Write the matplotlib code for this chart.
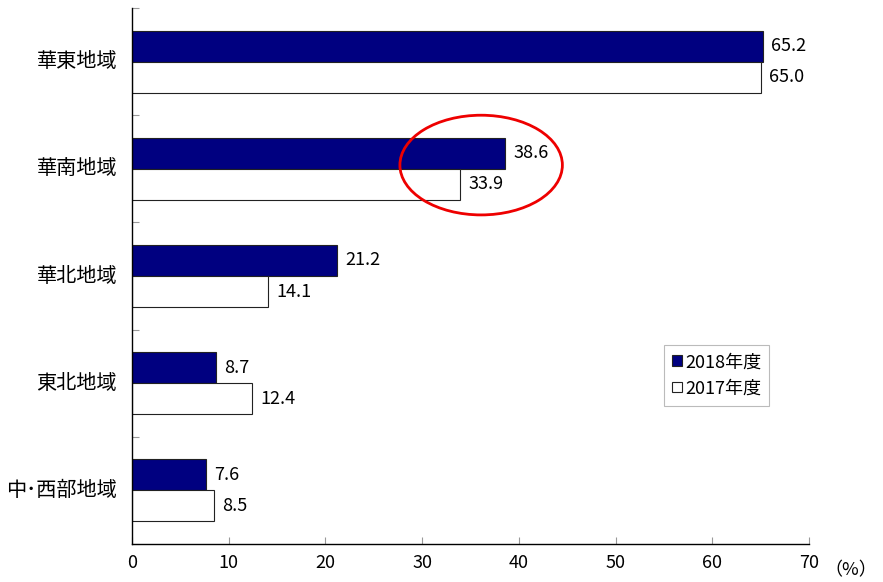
import matplotlib
matplotlib.use("Agg")
import matplotlib.pyplot as plt
from matplotlib.patches import Patch, Ellipse
import numpy as np

plt.rcParams['font.family'] = ['Noto Sans CJK JP', 'DejaVu Sans']

regions = ["華東地域", "華南地域", "華北地域", "東北地域", "中･西部地域"]
values_2018 = [65.2, 38.6, 21.2, 8.7, 7.6]
values_2017 = [65.0, 33.9, 14.1, 12.4, 8.5]
series_labels = ["2018年度", "2017年度"]
x_ticks = [0, 10, 20, 30, 40, 50, 60, 70]

fig = plt.figure(figsize=(8.83, 5.82), dpi=100)
ax = fig.add_axes([0.1495, 0.0653, 0.7667, 0.9209])

y = np.arange(len(regions))
h = 0.29
navy = "#000080"
ax.barh(y - h / 2, values_2018, height=h, color=navy, edgecolor="#222222", linewidth=0.8)
ax.barh(y + h / 2, values_2017, height=h, color="white", edgecolor="#222222", linewidth=0.8)

for yi, v in zip(y, values_2018):
    ax.annotate(f"{v:.1f}", (v, yi - h / 2), xytext=(6, 0), textcoords="offset points",
                va="center", ha="left", fontsize=13)
for yi, v in zip(y, values_2017):
    ax.annotate(f"{v:.1f}", (v, yi + h / 2), xytext=(6, 0), textcoords="offset points",
                va="center", ha="left", fontsize=13)

ax.set_xlim(0, 70)
ax.set_ylim(len(regions) - 0.5, -0.5)
ax.set_xticks(x_ticks)
ax.set_xticklabels([str(t) for t in x_ticks], fontsize=13)
ax.tick_params(axis="x", direction="in", length=5, color="#999999", pad=7)

# Category labels centred on groups, tick marks on group boundaries
ax.set_yticks(np.arange(-0.5, len(regions) + 0.5, 1.0))
ax.set_yticklabels([])
ax.tick_params(axis="y", direction="in", length=5, color="#999999")
for yi, name in zip(y, regions):
    ax.text(-0.022, yi, name, transform=ax.get_yaxis_transform(), ha="right",
            va="center", fontsize=14.5)

for s in ("top", "right"):
    ax.spines[s].set_visible(False)
for s in ("left", "bottom"):
    ax.spines[s].set_color("black")
    ax.spines[s].set_linewidth(1.0)

# Highlight around the 華南 pair
ax.add_patch(Ellipse((36.1, 0.965), 16.8, 0.93, fill=False, edgecolor="#ee0000",
                     linewidth=2, clip_on=False, zorder=5))

handles = [Patch(facecolor=navy, edgecolor="#222222", linewidth=0.8),
           Patch(facecolor="white", edgecolor="#222222", linewidth=0.8)]
leg = ax.legend(handles, series_labels, loc="upper left", bbox_to_anchor=(0.786, 0.371),
                fontsize=13, handlelength=0.55, handleheight=0.55, handletextpad=0.15,
                frameon=True, fancybox=False, borderpad=0.45, labelspacing=0.45,
                borderaxespad=0)
leg.get_frame().set_edgecolor("#aaaaaa")
leg.get_frame().set_linewidth(0.8)

fig.text(0.963, 0.005, "（%）", ha="center", va="bottom", fontsize=13)

fig.savefig("out.png", dpi=100)
